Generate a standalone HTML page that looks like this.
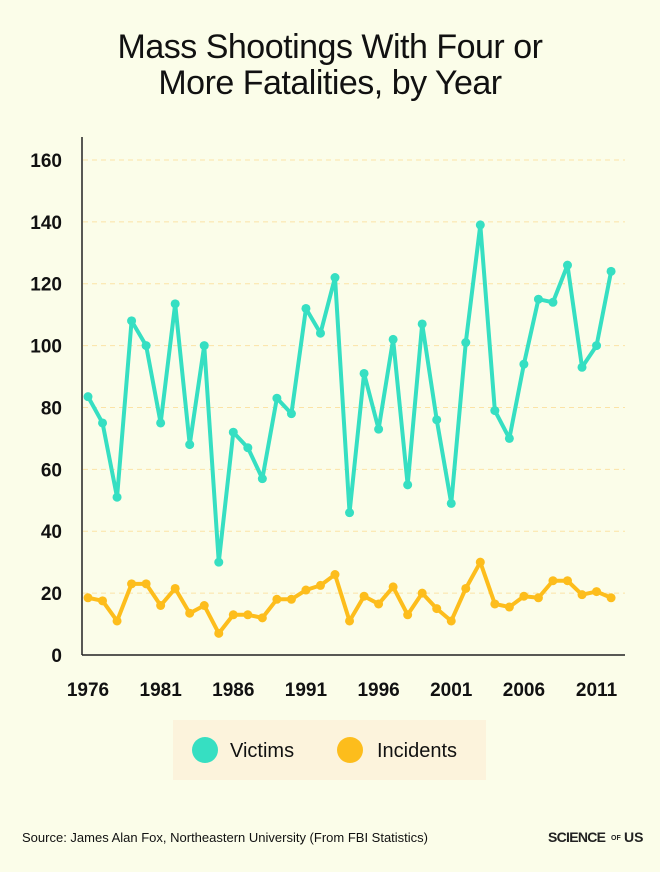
<!DOCTYPE html>
<html><head><meta charset="utf-8"><style>
html,body{margin:0;padding:0;background:#fbfde9;}
body{width:660px;height:867px;overflow:hidden;font-family:"Liberation Sans",sans-serif;}
</style></head><body>
<svg id="s" width="660" height="867" xmlns="http://www.w3.org/2000/svg" font-family="Liberation Sans, sans-serif">
<rect width="660" height="867" fill="#fbfde9"/>
<text x="330" y="58" text-anchor="middle" font-size="34" fill="#111" letter-spacing="-0.5">Mass Shootings With Four or</text>
<text x="330" y="94" text-anchor="middle" font-size="34" fill="#111" letter-spacing="-0.5">More Fatalities, by Year</text>
<g id="grid"></g>
<line x1="82" y1="137" x2="82" y2="655" stroke="#222" stroke-width="1.5"/>
<line x1="82" y1="655" x2="625" y2="655" stroke="#222" stroke-width="1.5"/>
<g id="ylab" font-size="19" font-weight="bold" fill="#111" text-anchor="end"></g>
<g id="xlab" font-size="19" font-weight="bold" fill="#111" text-anchor="middle"></g>
<g id="series"></g>
<rect x="173" y="720" width="313" height="60" fill="#fcf3dc"/>
<circle cx="205" cy="750" r="13" fill="#36dfc2"/>
<text x="230" y="757" font-size="20" fill="#111">Victims</text>
<circle cx="350" cy="750" r="13" fill="#fdbd1c"/>
<text x="377" y="757" font-size="20" fill="#111">Incidents</text>
<text x="22" y="842" font-size="13" fill="#111">Source: James Alan Fox, Northeastern University (From FBI Statistics)</text>
<text x="548" y="842" font-size="14" font-weight="bold" fill="#222" textLength="58">SCIENCE</text>
<text x="611" y="840" font-size="7" font-weight="bold" fill="#222">OF</text>
<text x="624" y="842" font-size="14" font-weight="bold" fill="#222">US</text>
</svg>
<script>
var ns="http://www.w3.org/2000/svg";
function el(p,t,a,txt){var e=document.createElementNS(ns,t);for(var k in a)e.setAttribute(k,a[k]);if(txt!=null)e.textContent=txt;document.getElementById(p).appendChild(e);}
function Y(v){return 655-v*3.094;}
function X(i){return 88+i*14.53;}
for(var v=0;v<=160;v+=20){ if(v>0) el("grid","line",{x1:83,x2:625,y1:Y(v),y2:Y(v),stroke:"#fbe3a6","stroke-dasharray":"5,4","stroke-width":1});
 el("ylab","text",{x:62,y:Y(v)+7},String(v));}
for(var i=0;i<=35;i+=5) el("xlab","text",{x:X(i),y:696},String(1976+i));
var vic=[83.5,75,51,108,100,75,113.5,68,100,30,72,67,57,83,78,112,104,122,46,91,73,102,55,107,76,49,101,139,79,70,94,115,114,126,93,100,124];
var inc=[18.5,17.5,11,23,23,16,21.5,13.5,16,7,13,13,12,18,18,21,22.5,26,11,19,16.5,22,13,20,15,11,21.5,30,16.5,15.5,19,18.5,24,24,19.5,20.5,18.5];
function draw(d,c){var p=d.map(function(v,i){return X(i)+","+Y(v);}).join(" ");
 el("series","polyline",{points:p,fill:"none",stroke:c,"stroke-width":4,"stroke-linejoin":"round"});
 d.forEach(function(v,i){el("series","circle",{cx:X(i),cy:Y(v),r:4.5,fill:c});});}
draw(vic,"#36dfc2");draw(inc,"#fdbd1c");
</script>
</body></html>
